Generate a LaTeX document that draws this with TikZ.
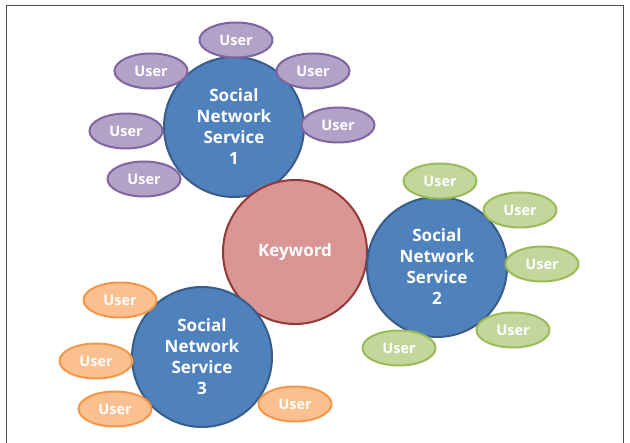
\documentclass[tikz,border=0pt]{standalone}
\usepackage{fontspec}
\setmainfont{Open Sans}
\usetikzlibrary{shapes.geometric}
\begin{document}
\begin{tikzpicture}[x=1pt,y=-1pt,
  sns/.style={circle,draw=snsb,line width=2pt,fill=snsf,minimum size=140pt,inner sep=0pt,
    text=white,font=\fontsize{17}{21}\selectfont\bfseries,align=center},
  kw/.style={circle,draw=kwb,line width=2pt,fill=kwf,minimum size=144pt,inner sep=0pt,
    text=white,font=\fontsize{17}{21}\selectfont\bfseries},
  user/.style={ellipse,draw=#1b,line width=2pt,fill=#1f,minimum width=73pt,minimum height=35pt,
    inner sep=0pt,text=white,font=\fontsize{14.5}{16}\selectfont\bfseries},
  frame/.style={draw=black!70,line width=0.8pt}]
\definecolor{snsf}{RGB}{79,129,189}
\definecolor{snsb}{RGB}{56,93,138}
\definecolor{kwf}{RGB}{217,150,148}
\definecolor{kwb}{RGB}{149,55,53}
\definecolor{pf}{RGB}{179,162,199}
\definecolor{pb}{RGB}{128,100,162}
\definecolor{gf}{RGB}{195,214,155}
\definecolor{gb}{RGB}{155,187,89}
\definecolor{of}{RGB}{250,192,144}
\definecolor{ob}{RGB}{247,150,70}
\useasboundingbox (0,0) rectangle (630,443);
\coordinate (f1) at (6,443);
\coordinate (f2) at (6,5);
\coordinate (f3) at (623,5);
\coordinate (f4) at (623,443);
\draw[frame] (f1) -- (f2) -- (f3) -- (f4);
% circles
\node[sns] (s1) at (234,127) {Social\\Network\\Service\\1};
\node[kw] (k) at (295,252) {Keyword};
\node[sns] (s2) at (437,267) {Social\\Network\\Service\\2};
\node[sns] (s3) at (202,357) {Social\\Network\\Service\\3};
% users of SNS1
\node[user=p] (u11) at (236,40) {User};
\node[user=p] (u12) at (151,71) {User};
\node[user=p] (u13) at (313,71) {User};
\node[user=p] (u14) at (126,131) {User};
\node[user=p] (u15) at (338,125) {User};
\node[user=p] (u16) at (144,179) {User};
% users of SNS2
\node[user=g] (u21) at (440,181) {User};
\node[user=g] (u22) at (520,210) {User};
\node[user=g] (u23) at (542,264) {User};
\node[user=g] (u24) at (513,330) {User};
\node[user=g] (u25) at (399,348) {User};
% users of SNS3
\node[user=o] (u31) at (120,300) {User};
\node[user=o] (u32) at (96,361) {User};
\node[user=o] (u33) at (115,409) {User};
\node[user=o] (u34) at (295,404) {User};
\end{tikzpicture}
\end{document}
